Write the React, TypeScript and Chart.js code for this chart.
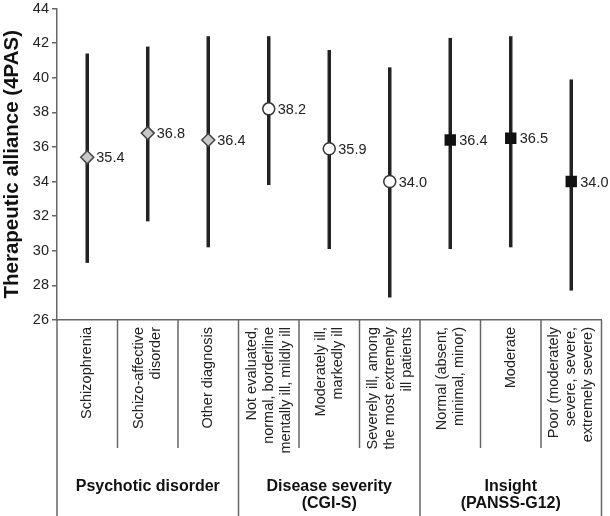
import React, { useEffect, useRef } from "react";
import { Chart, registerables } from "chart.js";

Chart.register(...registerables);

const categoryLines: string[][] = [
  ["Schizophrenia"],
  ["Schizo-affective", "disorder"],
  ["Other diagnosis"],
  ["Not evaluated,", "normal, borderline", "mentally ill, mildly ill"],
  ["Moderately ill,", "markedly ill"],
  ["Severely ill, among", "the most extremely", "ill patients"],
  ["Normal (absent,", "minimal, minor)"],
  ["Moderate"],
  ["Poor (moderately", "severe, severe,", "extremely severe)"],
];

const groupLabels: string[][] = [
  ["Psychotic disorder"],
  ["Disease severity", "(CGI-S)"],
  ["Insight", "(PANSS-G12)"],
];
const groupSizes = [3, 3, 3];

const means = [35.4, 36.8, 36.4, 38.2, 35.9, 34.0, 36.4, 36.5, 34.0];
const lower = [29.3, 31.7, 30.2, 33.8, 30.1, 27.3, 30.1, 30.2, 27.7];
const upper = [41.4, 41.8, 42.4, 42.4, 41.6, 40.6, 42.3, 42.4, 39.9];

const markerKinds = ["diamond", "diamond", "diamond", "circle", "circle", "circle", "square", "square", "square"];

const yTicks = { min: 26, max: 44, step: 2 };

const FONT = "'Liberation Sans', Arial, Helvetica, sans-serif";

export default function App() {
  const ref = useRef<HTMLCanvasElement | null>(null);

  useEffect(() => {
    if (!ref.current) return;
    const styleMap: Record<string, any> = {
      diamond: { style: "rectRot", bg: "#c8c8c8", border: "#444", radius: 6.5 },
      circle: { style: "circle", bg: "#ffffff", border: "#333", radius: 6 },
      square: { style: "rect", bg: "#111111", border: "#111", radius: 7 },
    };

    const errorBars = {
      id: "errorBars",
      beforeDatasetsDraw(chart: any) {
        const ctx = chart.ctx;
        const xs = chart.scales.x;
        const ys = chart.scales.y;
        ctx.save();
        ctx.strokeStyle = "#222";
        ctx.lineWidth = 3.5;
        ctx.lineCap = "butt";
        for (let i = 0; i < means.length; i++) {
          const x = xs.getPixelForValue(i);
          ctx.beginPath();
          ctx.moveTo(x, ys.getPixelForValue(lower[i]));
          ctx.lineTo(x, ys.getPixelForValue(upper[i]));
          ctx.stroke();
        }
        ctx.restore();
      },
      afterDatasetsDraw(chart: any) {
        const ctx = chart.ctx;
        const xs = chart.scales.x;
        const ys = chart.scales.y;
        ctx.save();
        ctx.fillStyle = "#222";
        ctx.font = `14.5px ${FONT}`;
        ctx.textAlign = "left";
        ctx.textBaseline = "middle";
        for (let i = 0; i < means.length; i++) {
          const x = xs.getPixelForValue(i);
          const y = ys.getPixelForValue(means[i]);
          ctx.fillText(means[i].toFixed(1), x + 9, y + 1);
        }
        ctx.restore();
      },
      afterDraw(chart: any) {
        const ctx = chart.ctx;
        const xs = chart.scales.x;
        const area = chart.chartArea;
        const bottom = chart.height;
        const top = area.bottom;
        ctx.save();
        ctx.strokeStyle = "#666";
        ctx.lineWidth = 1.5;
        const groupEnds = new Set<number>();
        let acc = 0;
        for (const g of groupSizes) {
          acc += g;
          groupEnds.add(acc);
        }
        const n = means.length;
        const step = (area.right - area.left) / n;
        for (let b = 0; b <= n; b++) {
          let x: number;
          if (b === 0) x = area.left;
          else if (b === n) x = area.right;
          else x = (xs.getPixelForValue(b - 1) + xs.getPixelForValue(b)) / 2;
          const full = b === 0 || groupEnds.has(b);
          ctx.beginPath();
          ctx.moveTo(x, top);
          ctx.lineTo(x, full ? bottom : top + 128);
          ctx.stroke();
        }
        ctx.fillStyle = "#222";
        ctx.font = `14.5px ${FONT}`;
        ctx.textAlign = "right";
        ctx.textBaseline = "middle";
        const lh = 17;
        for (let i = 0; i < n; i++) {
          const cx = xs.getPixelForValue(i);
          const lines = categoryLines[i];
          for (let j = 0; j < lines.length; j++) {
            const lx = cx + (j - (lines.length - 1) / 2) * lh;
            ctx.save();
            ctx.translate(lx, top + 7);
            ctx.rotate(-Math.PI / 2);
            ctx.fillText(lines[j], 0, 0);
            ctx.restore();
          }
        }
        ctx.fillStyle = "#111";
        ctx.font = `bold 16px ${FONT}`;
        ctx.textAlign = "center";
        ctx.textBaseline = "middle";
        let start = 0;
        for (let g = 0; g < groupSizes.length; g++) {
          const end = start + groupSizes[g];
          const x0 = area.left + start * step;
          const x1 = area.left + end * step;
          const cx = (x0 + x1) / 2;
          const lines = groupLabels[g];
          for (let j = 0; j < lines.length; j++) {
            ctx.fillText(lines[j], cx, top + 167 + j * 17);
          }
          start = end;
        }
        ctx.restore();
      },
    };

    const chart = new Chart(ref.current, {
      type: "line",
      data: {
        labels: means.map((_, i) => String(i)),
        datasets: [
          {
            data: means,
            showLine: false,
            pointStyle: markerKinds.map((k) => styleMap[k].style),
            pointBackgroundColor: markerKinds.map((k) => styleMap[k].bg),
            pointBorderColor: markerKinds.map((k) => styleMap[k].border),
            pointBorderWidth: 1.5,
            pointRadius: markerKinds.map((k) => styleMap[k].radius),
            pointHoverRadius: markerKinds.map((k) => styleMap[k].radius),
          } as any,
        ],
      },
      options: {
        animation: false,
        responsive: false,
        maintainAspectRatio: false,
        layout: { padding: { top: 0, right: 7, left: 0, bottom: 0 } },
        plugins: { legend: { display: false }, tooltip: { enabled: false } },
        scales: {
          x: {
            type: "category",
            offset: true,
            grid: { display: false },
            border: { display: true, color: "#666", width: 1.5 },
            ticks: { display: false },
            afterFit: (s: any) => {
              s.height = 196;
              s.paddingLeft = 0;
              s.paddingRight = 0;
            },
          },
          y: {
            min: yTicks.min,
            max: yTicks.max,
            ticks: {
              stepSize: yTicks.step,
              color: "#222",
              font: { size: 14.5, family: FONT },
              padding: 3,
            },
            grid: { drawOnChartArea: false, drawTicks: true, tickLength: 5, color: "#666", lineWidth: 1.5 },
            border: { display: true, color: "#666", width: 1.5 },
            title: {
              display: true,
              text: "Therapeutic alliance (4PAS)",
              color: "#111",
              font: { size: 20.5, weight: "bold", family: FONT },
              padding: 0,
            },
            afterFit: (s: any) => {
              s.width = 57;
              s.paddingTop = 5;
              s.paddingBottom = 0;
            },
          },
        },
      },
      plugins: [errorBars],
    });
    return () => chart.destroy();
  }, []);

  return (
    <div style={{ position: "absolute", left: 0, top: 0, width: 610, height: 516, background: "#fff" }}>
      <canvas ref={ref} width={610} height={516} style={{ width: 610, height: 516 }} />
    </div>
  );
}
